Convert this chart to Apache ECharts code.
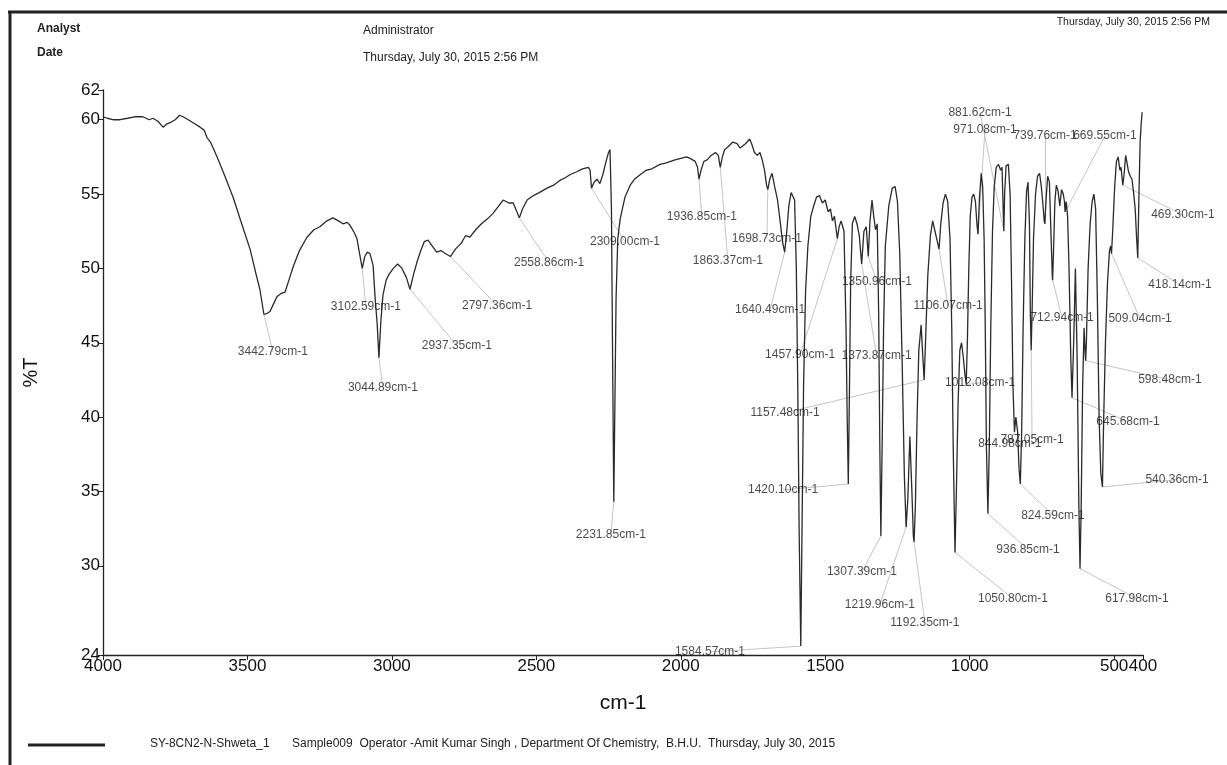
<!DOCTYPE html>
<html>
<head>
<meta charset="utf-8">
<script src="https://cdn.jsdelivr.net/npm/echarts@6/dist/echarts.min.js"></script>
<style>
html,body{margin:0;padding:0;background:#fff;}
#c{width:1227px;height:765px;}
</style>
</head>
<body>
<div id="c"></div>
<script>
// ---------- data ----------
const xTicks = [4000, 3500, 3000, 2500, 2000, 1500, 1000, 500, 400];
const yTicks = [24, 30, 35, 40, 45, 50, 55, 60, 62];

// [wavenumber cm-1, %T]
const spectrumHigh = [
[4000,60.2],[3985,60.1],[3965,60.0],[3941,60.0],[3915,60.1],[3890,60.2],[3862,60.2],[3840,60.0],[3827,60.1],[3810,59.9],
[3792,59.5],[3780,59.7],[3768,59.8],[3750,60.0],[3735,60.3],[3723,60.2],[3705,60.0],[3688,59.8],[3664,59.5],[3650,59.3],
[3640,58.8],[3628,58.5],[3605,57.5],[3580,56.3],[3550,54.8],[3520,53.0],[3491,51.3],[3470,49.6],[3457,48.6],[3443,46.9],
[3430,47.0],[3422,47.1],[3410,47.6],[3398,48.1],[3385,48.3],[3370,48.4],[3355,49.3],[3342,50.1],[3320,51.2],[3294,52.1],
[3270,52.6],[3249,52.8],[3225,53.2],[3204,53.4],[3185,53.2],[3169,53.0],[3155,53.1],[3145,52.9],[3130,52.4],[3121,52.0],
[3110,50.8],[3102.6,50.0],[3094,50.8],[3085,51.1],[3076,51.0],[3065,50.2],[3058,48.0],[3051,46.3],[3044.9,44.0],[3038,46.5],
[3031,48.2],[3020,49.2],[3010,49.6],[2995,50.0],[2980,50.3],[2965,50.0],[2950,49.4],[2937.4,48.6],[2925,49.6],[2912,50.5],
[2900,51.2],[2888,51.8],[2875,51.9],[2860,51.5],[2845,51.1],[2830,51.2],[2815,51.0],[2797.4,50.8],[2780,51.3],[2760,51.7],
[2745,52.2],[2730,52.1],[2710,52.6],[2690,53.0],[2671,53.3],[2650,53.7],[2630,54.2],[2615,54.6],[2595,54.4],[2580,54.4],
[2567,53.8],[2558.9,53.4],[2548,54.0],[2532,54.6],[2510,54.9],[2490,55.1],[2463,55.4],[2440,55.6],[2420,55.9],[2400,56.1],
[2384,56.3],[2360,56.5],[2340,56.7],[2320,56.8],[2314,56.6],[2309,55.4],[2300,55.8],[2290,56.0],[2280,55.7],[2270,56.3],
[2260,57.1],[2250,57.8],[2245,58.0],[2240,54.0],[2236,44.0],[2231.9,34.3],[2228,41.0],[2224,48.0],[2218,52.0],[2210,53.3],
[2200,54.2],[2193,54.8],[2175,55.6],[2160,56.0],[2141,56.3],[2120,56.6],[2100,56.7],[2072,57.0],[2050,57.1],[2020,57.3],
[2000,57.4]
];

const spectrumMid = [
[1980,57.5],[1968,57.4],[1950,57.2],[1942,56.8],[1936.9,56.0],[1930,56.6],[1920,57.2],[1909,57.3],[1895,57.6],[1880,57.8],
[1870,57.6],[1863.4,56.8],[1856,57.5],[1848,58.0],[1835,58.2],[1820,58.5],[1805,58.4],[1795,58.1],[1788,58.2],[1775,58.4],
[1762,58.7],[1755,58.4],[1745,57.8],[1735,57.6],[1726,57.8],[1718,57.3],[1710,56.6],[1703,55.6],[1698.7,55.3],[1692,56.0],
[1684,56.4],[1675,55.5],[1665,54.6],[1655,53.0],[1648,51.8],[1640.5,51.1],[1633,52.5],[1626,54.2],[1618,55.1],[1612,55.0],
[1606,54.6],[1600,50.0],[1595,42.0],[1590,32.0],[1584.6,24.6],[1580,33.0],[1575,42.0],[1568,48.5],[1560,51.5],[1550,53.5],
[1540,54.2],[1530,54.8],[1520,54.9],[1510,54.4],[1500,54.6],[1490,53.8],[1482,54.0],[1475,53.2],[1468,53.5],[1462,52.6],
[1457.9,52.0],[1452,52.8],[1445,53.2],[1435,52.5],[1428,46.0],[1424,40.0],[1420.1,35.5],[1416,42.0],[1412,49.0],[1406,53.0],
[1398,53.5],[1390,53.0],[1382,52.2],[1373.9,50.3],[1366,52.5],[1358,52.8],[1351,50.8],[1345,53.2],[1338,54.6],[1332,53.5],
[1326,52.6],[1320,53.0],[1315,47.0],[1311,38.0],[1307.4,32.0],[1303,38.0],[1298,46.0],[1292,51.5],[1280,54.2],[1268,55.4],
[1258,55.5],[1250,54.5],[1242,51.0],[1234,44.0],[1226,36.0],[1220,32.6],[1214,34.5],[1207,38.7],[1200,35.0],[1195,32.0],
[1192.4,31.6],[1188,34.0],[1182,40.0],[1176,44.5],[1168,46.2],[1162,44.0],[1157.5,42.5],[1152,45.5],[1145,49.5],[1136,52.2],
[1128,53.2],[1120,52.5],[1112,51.8],[1106.1,51.3],[1100,53.0],[1092,54.4],[1084,55.0],[1076,54.5],[1068,52.0],[1062,46.0],
[1057,38.0],[1050.8,30.9],[1046,35.0],[1040,41.0],[1034,44.5],[1028,45.0],[1022,44.0],[1016,42.8],[1012.1,42.2],[1008,45.0],
[1003,50.0]
];

const spectrumLow = [
[998,53.5],[992,54.8],[986,55.0],[980,54.5],[975,53.0],[971.1,52.3],[966,54.8],[960,56.4],[955,55.5],[950,52.0],
[946,46.0],[942,38.0],[936.9,33.5],[932,38.0],[927,46.0],[921,52.5],[915,55.5],[908,56.8],[900,57.0],[893,56.6],
[888,56.8],[884,54.0],[881.6,52.5],[879,55.0],[874,56.9],[866,57.0],[860,55.0],[855,49.0],[850,42.0],[845,39.0],
[840,40.0],[834,39.0],[829,36.5],[824.6,35.5],[820,39.0],[815,46.0],[809,52.0],[803,55.2],[798,55.8],[793,53.0],
[790,47.0],[787.1,44.5],[784,47.0],[779,52.0],[772,55.0],[765,56.2],[758,56.4],[752,55.5],[746,54.2],[742,53.2],
[739.8,53.0],[736,54.5],[730,56.2],[724,55.8],[718,52.0],[714,49.5],[712.9,49.2],[710,51.0],[705,54.5],[700,55.6],
[694,55.2],[688,54.2],[682,55.3],[676,55.0],[672,54.5],[669.6,53.8],[666,54.5],[661,53.5],[656,50.0],[650,44.0],
[645.7,41.3],[640,45.0],[634,50.0],[628,44.0],[622,34.0],[618,29.8],[614,34.0],[609,42.0],[604,46.0],[600,44.2],
[598.5,43.8],[596,45.0],[590,50.0],[583,53.0],[576,54.5],[570,55.0],[564,54.0],[558,48.0],[552,40.0],[546,36.2],
[540.4,35.3],[536,40.0],[530,45.0],[523,49.0],[516,51.2],[512,51.5],[509,51.0],[505,52.5],[498,55.5],[492,57.2],
[486,57.5],[480,56.6],[476,56.8],[470,55.6],[466,56.2],[460,57.6],[455,57.6],[450,56.5],[444,56.2],[438,56.0],
[432,55.0],[427,54.0],[422,52.0],[418.1,50.7],[414,55.0],[410,58.5],[406,59.8],[403,60.5]
];

// peak annotations: [peak wavenumber, peak %T, label text]
const peakLabels = [
[3442.79,46.9,'3442.79cm-1'],[3102.59,50.0,'3102.59cm-1'],[3044.89,44.0,'3044.89cm-1'],[2937.35,48.6,'2937.35cm-1'],
[2797.36,50.8,'2797.36cm-1'],[2558.86,53.4,'2558.86cm-1'],[2309.00,55.4,'2309.00cm-1'],[2231.85,34.3,'2231.85cm-1'],
[1936.85,56.0,'1936.85cm-1'],[1863.37,56.8,'1863.37cm-1'],[1698.73,55.3,'1698.73cm-1'],[1640.49,51.1,'1640.49cm-1'],
[1584.57,24.6,'1584.57cm-1'],[1457.90,52.0,'1457.90cm-1'],[1373.87,50.3,'1373.87cm-1'],[1350.96,50.8,'1350.96cm-1'],
[1420.10,35.5,'1420.10cm-1'],[1157.48,42.5,'1157.48cm-1'],[1307.39,32.0,'1307.39cm-1'],[1219.96,32.6,'1219.96cm-1'],
[1192.35,31.6,'1192.35cm-1'],[1106.07,51.3,'1106.07cm-1'],[1050.80,30.9,'1050.80cm-1'],[1012.08,42.2,'1012.08cm-1'],
[971.08,52.3,'971.08cm-1'],[881.62,52.5,'881.62cm-1'],[936.85,33.5,'936.85cm-1'],[844.98,39.0,'844.98cm-1'],
[824.59,35.5,'824.59cm-1'],[787.05,44.5,'787.05cm-1'],[739.76,53.0,'739.76cm-1'],[712.94,49.2,'712.94cm-1'],
[669.55,53.8,'669.55cm-1'],[645.68,41.3,'645.68cm-1'],[617.98,29.8,'617.98cm-1'],[598.48,43.8,'598.48cm-1'],
[540.36,35.3,'540.36cm-1'],[509.04,51.0,'509.04cm-1'],[469.30,55.6,'469.30cm-1'],[418.14,50.7,'418.14cm-1']
];
// where each label text sits (same order), in axis units
const labelSpots = [
[3412,44.4],[3090,47.4],[3031,42.0],[2775,44.8],[2636,47.5],[2456,50.4],[2193,51.8],[2242,32.1],
[1927,53.5],[1837,50.5],[1702,52.0],[1691,47.2],[1899,24.2],[1587,44.2],[1322,44.1],[1321,49.1],
[1646,35.1],[1639,40.3],[1373,29.6],[1311,27.4],[1155,26.2],[1075,47.5],[850,27.8],[964,42.3],
[947,59.3],[964,60.5],[798,31.1],[861,38.2],[712,33.4],[784,38.5],[739,58.9],[680,46.7],
[532,58.9],[452,39.7],[421,27.8],[307,42.5],[282,35.8],[410,46.6],[262,53.6],[272,48.9]
];

// ---------- chart ----------
const FONT = "'Liberation Sans Narrow','Liberation Sans',Arial,sans-serif";
const chart = echarts.init(document.getElementById('c'), null, {renderer: 'canvas'});
const spectrum = spectrumHigh.concat(spectrumMid, spectrumLow);

const leaderData = peakLabels.map((p, i) => ({coords: [[p[0], p[1]], labelSpots[i]]}));
const labelData = peakLabels.map((p, i) => ({value: labelSpots[i], name: p[2]}));
const plain = v => String(v);

chart.setOption({
  animation: false,
  backgroundColor: '#fff',
  grid: {left: 103, right: 84, top: 90, bottom: 110, containLabel: false},
  xAxis: {
    type: 'value', min: 400, max: 4000, inverse: true,
    name: 'cm-1', nameLocation: 'middle', nameGap: 38,
    nameTextStyle: {fontSize: 21, color: '#111', fontFamily: FONT},
    axisLine: {show: true, onZero: false, lineStyle: {color: '#222', width: 1.3}},
    axisTick: {show: true, customValues: xTicks, length: 5, lineStyle: {color: '#222'}},
    axisLabel: {customValues: xTicks, formatter: plain, fontSize: 17, color: '#111', margin: 3, fontFamily: FONT},
    splitLine: {show: false}
  },
  yAxis: {
    type: 'value', min: 24, max: 62,
    name: '%T', nameLocation: 'middle', nameGap: 62, nameRotate: 90,
    nameTextStyle: {fontSize: 20, color: '#111', fontFamily: FONT},
    axisLine: {show: true, lineStyle: {color: '#222', width: 1.3}},
    axisTick: {show: true, customValues: yTicks, length: 5, lineStyle: {color: '#222'}},
    axisLabel: {customValues: yTicks, formatter: plain, fontSize: 17, color: '#111', margin: 3, fontFamily: FONT},
    splitLine: {show: false}
  },
  series: [
    {
      type: 'lines', coordinateSystem: 'cartesian2d', clip: false, silent: true,
      lineStyle: {color: '#b5b5b5', width: 0.8, opacity: 1},
      data: leaderData, z: 1
    },
    {
      type: 'line', data: spectrum, showSymbol: false, symbol: 'none', clip: false,
      lineStyle: {color: '#2a2a2a', width: 1.3}, z: 3
    },
    {
      type: 'scatter', data: labelData, symbolSize: 0, clip: false, silent: true, z: 4,
      label: {show: true, position: 'inside', formatter: '{b}', fontSize: 12, color: '#1a1a1a', fontFamily: FONT}
    }
  ],
  graphic: [
    {type: 'line', shape: {x1: 8, y1: 12, x2: 1227, y2: 12}, style: {stroke: '#222', lineWidth: 3}},
    {type: 'line', shape: {x1: 10, y1: 12, x2: 10, y2: 765}, style: {stroke: '#222', lineWidth: 3}},
    {type: 'text', left: 37, top: 23, style: {text: 'Analyst', fontSize: 12, fontWeight: 'bold', fill: '#222', fontFamily: FONT}},
    {type: 'text', left: 37, top: 47, style: {text: 'Date', fontSize: 12, fontWeight: 'bold', fill: '#222', fontFamily: FONT}},
    {type: 'text', left: 363, top: 25, style: {text: 'Administrator', fontSize: 12, fill: '#222', fontFamily: FONT}},
    {type: 'text', left: 363, top: 52, style: {text: 'Thursday, July 30, 2015 2:56 PM', fontSize: 12, fill: '#222', fontFamily: FONT}},
    {type: 'text', right: 17, top: 17, style: {text: 'Thursday, July 30, 2015 2:56 PM', fontSize: 10.5, fill: '#222', fontFamily: FONT}},
    {type: 'line', shape: {x1: 28, y1: 745, x2: 105, y2: 745}, style: {stroke: '#222', lineWidth: 3}},
    {type: 'text', left: 150, top: 738, style: {text: 'SY-8CN2-N-Shweta_1', fontSize: 12, fill: '#222', fontFamily: FONT}},
    {type: 'text', left: 292, top: 738, style: {text: 'Sample009  Operator -Amit Kumar Singh , Department Of Chemistry,  B.H.U.  Thursday, July 30, 2015', fontSize: 12, fill: '#222', fontFamily: FONT}}
  ]
});
</script>
</body>
</html>
